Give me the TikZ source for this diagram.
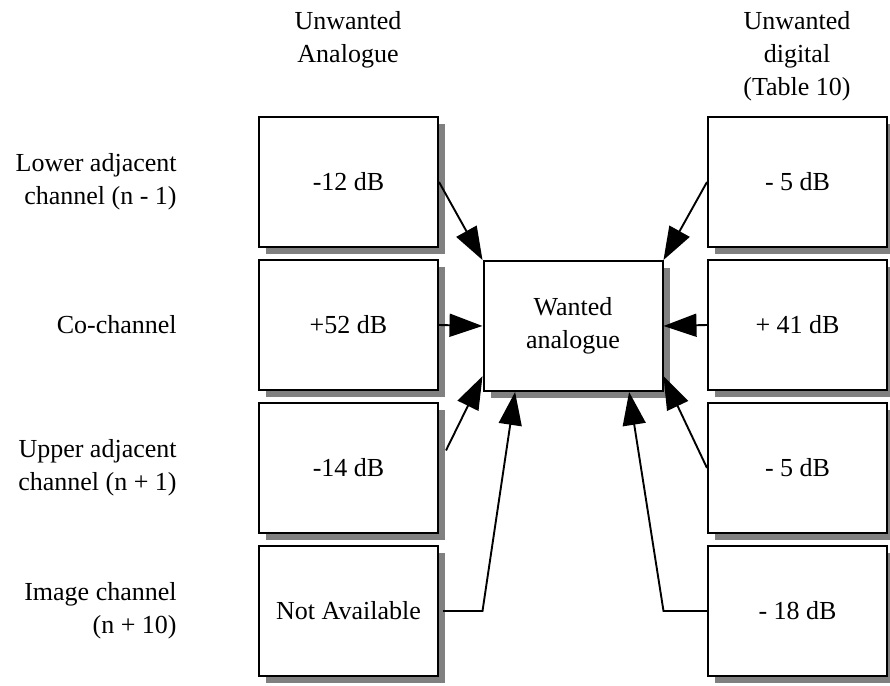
\documentclass[tikz,border=0pt]{standalone}
\usepackage{fontspec}
\setmainfont{Liberation Serif}
\usepackage{tikz}
\usetikzlibrary{positioning,arrows.meta,shadows,calc}
\definecolor{shade}{HTML}{808080}

\begin{document}
\begin{tikzpicture}[x=0.5pt,y=-0.5pt,font=\fontsize{13}{16.5}\selectfont,
  >={Triangle[length=16.5pt,width=11.5pt]},
  lvl/.style={draw,line width=1pt,fill=white,align=center,
    minimum width=89.5pt,minimum height=65pt,
    drop shadow={shadow xshift=3.5pt,shadow yshift=-3.5pt,fill=shade,opacity=1}},
  side/.style={align=right,anchor=east,inner sep=0pt},
  head/.style={align=center,anchor=north,inner sep=0pt},
  feed/.style={->,line width=0.95pt}]
  \useasboundingbox (0,0) rectangle (890,686);
  % column and row headings
  \node[head] (hana) at (348,11) {Unwanted\\Analogue};
  \node[head] (hdig) at (797,11) {Unwanted\\digital\\(Table 10)};
  \node[side] (lbl1) at (177,182) {Lower adjacent\\channel (n - 1)};
  \node[side] (lbl2) at (177,325) {Co-channel};
  \node[side] (lbl3) at (177,468) {Upper adjacent\\channel (n + 1)};
  \node[side] (lbl4) at (177,611) {Image channel\\(n + 10)};
  % protection ratios, unwanted analogue
  \node[lvl] (a1) at (348.5,182) {-12 dB};
  \node[lvl] (a2) at (348.5,325) {+52 dB};
  \node[lvl] (a3) at (348.5,468) {-14 dB};
  \node[lvl] (a4) at (348.5,611) {Not Available};
  % protection ratios, unwanted digital
  \node[lvl] (d1) at (797.5,182) {- 5 dB};
  \node[lvl] (d2) at (797.5,325) {+ 41 dB};
  \node[lvl] (d3) at (797.5,468) {- 5 dB};
  \node[lvl] (d4) at (797.5,611) {- 18 dB};
  \node[lvl] (want) at (573,326) {Wanted\\analogue};
  % interferers into the wanted signal
  \draw[feed] (a1.east) -- (want.north west);
  \draw[feed] (a2.east) -- (want.west);
  \draw[feed] ([xshift=3.5pt]a3.11) -- (want.209);
  \draw[feed] ([xshift=2pt]a4.east) -- (a4.east -| want.west)
    -- ($(want.south west)!0.18!(want.south east)$);
  \draw[feed] (d1.west) -- (want.north east);
  \draw[feed] (d2.west) -- (want.east);
  \draw[feed] (d3.west) -- (want.-29);
  \draw[feed] (d4.west) -- (d4.west -| want.east)
    -- ($(want.south west)!0.81!(want.south east)$);
\end{tikzpicture}
\end{document}
